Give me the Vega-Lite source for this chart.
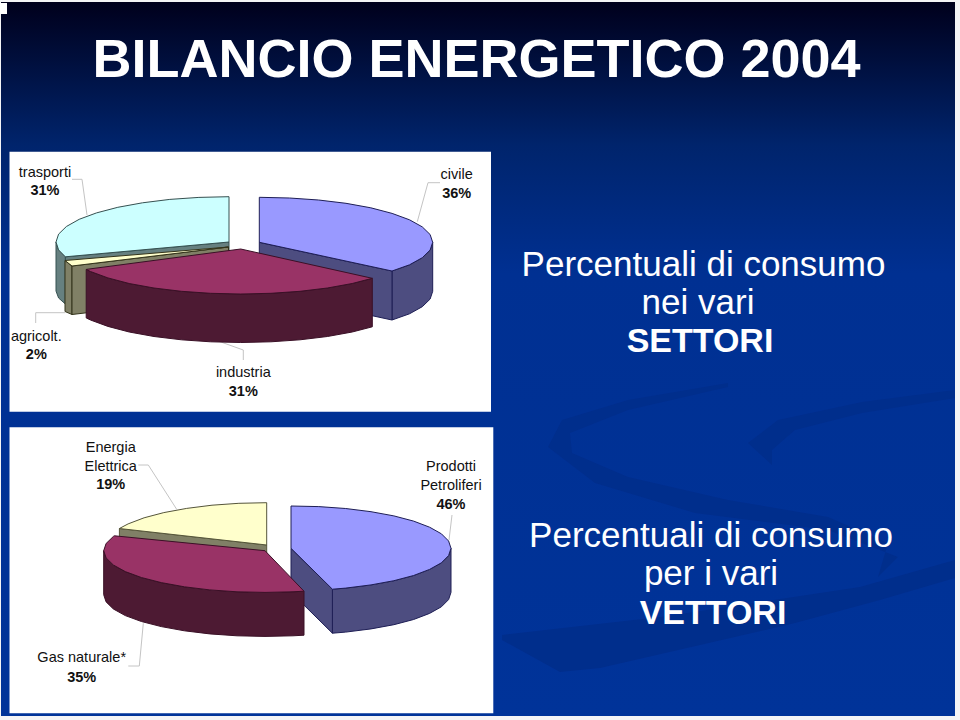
{"$schema":"https://vega.github.io/schema/vega-lite/v6.json","width":960,"height":720,"padding":0,"autosize":{"type":"fit","contains":"padding"},"background":"#f4f4f6","view":{"stroke":null},
"datasets":{
"slide":[{"x":1,"x2":955,"y":2,"y2":716}],
"swoosh":[
{"g":"band","i":1,"x":502,"y":635},{"g":"band","i":2,"x":660,"y":617},{"g":"band","i":3,"x":860,"y":587},{"g":"band","i":4,"x":955,"y":560},{"g":"band","i":5,"x":955,"y":578},{"g":"band","i":6,"x":880,"y":600},{"g":"band","i":7,"x":795,"y":623},{"g":"band","i":8,"x":700,"y":645},{"g":"band","i":9,"x":600,"y":668},{"g":"band","i":10,"x":560,"y":672},{"g":"band","i":11,"x":502,"y":640},
{"g":"crescent","i":1,"x":955,"y":390},{"g":"crescent","i":2,"x":862,"y":402},{"g":"crescent","i":3,"x":778,"y":420},{"g":"crescent","i":4,"x":748,"y":443},{"g":"crescent","i":5,"x":772,"y":465},{"g":"crescent","i":6,"x":772,"y":450},{"g":"crescent","i":7,"x":795,"y":430},{"g":"crescent","i":8,"x":862,"y":413},{"g":"crescent","i":9,"x":955,"y":398},
{"g":"ribbon","i":1,"x":728,"y":383},{"g":"ribbon","i":2,"x":628,"y":400},{"g":"ribbon","i":3,"x":562,"y":420},{"g":"ribbon","i":4,"x":548,"y":447},{"g":"ribbon","i":5,"x":595,"y":483},{"g":"ribbon","i":6,"x":695,"y":513},{"g":"ribbon","i":7,"x":828,"y":530},{"g":"ribbon","i":8,"x":898,"y":557},{"g":"ribbon","i":9,"x":878,"y":577},{"g":"ribbon","i":10,"x":888,"y":543},{"g":"ribbon","i":11,"x":828,"y":517},{"g":"ribbon","i":12,"x":728,"y":500},{"g":"ribbon","i":13,"x":628,"y":477},{"g":"ribbon","i":14,"x":572,"y":453},{"g":"ribbon","i":15,"x":570,"y":433},{"g":"ribbon","i":16,"x":628,"y":410},{"g":"ribbon","i":17,"x":728,"y":387}],
"panels":[{"x":9.5,"x2":491,"y":151.7,"y2":411.7},{"x":9.5,"x2":493.3,"y":427.3,"y2":713.3},{"x":0,"x2":7,"y":3,"y2":14}],
"leaders":[
{"g":"trasporti","i":1,"x":72,"y":179.3},{"g":"trasporti","i":2,"x":82,"y":179.3},{"g":"trasporti","i":3,"x":87,"y":215},
{"g":"civile","i":1,"x":440,"y":182.7},{"g":"civile","i":2,"x":428,"y":182.7},{"g":"civile","i":3,"x":417.3,"y":221.7},
{"g":"agricolt","i":1,"x":65,"y":312.7},{"g":"agricolt","i":2,"x":35.7,"y":312.7},{"g":"agricolt","i":3,"x":35.7,"y":323},
{"g":"industria","i":1,"x":220,"y":341.7},{"g":"industria","i":2,"x":243.3,"y":350},{"g":"industria","i":3,"x":243.3,"y":360},
{"g":"energia","i":1,"x":138.3,"y":465},{"g":"energia","i":2,"x":148.3,"y":465},{"g":"energia","i":3,"x":176.7,"y":509.3},
{"g":"prodotti","i":1,"x":452,"y":515},{"g":"prodotti","i":2,"x":449,"y":540},
{"g":"gas","i":1,"x":143.3,"y":623.3},{"g":"gas","i":2,"x":139.3,"y":666},{"g":"gas","i":3,"x":128.3,"y":666}],
"faces":[
{"g":"trasporti outer","i":1,"x":56,"y":242},{"g":"trasporti outer","i":2,"x":58.6,"y":249.9},{"g":"trasporti outer","i":3,"x":65.4,"y":256.8},{"g":"trasporti outer","i":4,"x":65.4,"y":304},{"g":"trasporti outer","i":5,"x":58.6,"y":298},{"g":"trasporti outer","i":6,"x":56,"y":291},{"g":"trasporti outer","i":7,"x":56,"y":242},
{"g":"trasporti inner","i":1,"x":229,"y":242},{"g":"trasporti inner","i":2,"x":65.4,"y":256.8},{"g":"trasporti inner","i":3,"x":65.4,"y":304},{"g":"trasporti inner","i":4,"x":229,"y":291},{"g":"trasporti inner","i":5,"x":229,"y":242},
{"g":"trasporti top","i":1,"x":229,"y":242},{"g":"trasporti top","i":2,"x":229,"y":196.7},{"g":"trasporti top","i":3,"x":198.9,"y":197.4},{"g":"trasporti top","i":4,"x":169.8,"y":199.4},{"g":"trasporti top","i":5,"x":142.5,"y":202.8},{"g":"trasporti top","i":6,"x":117.8,"y":207.3},{"g":"trasporti top","i":7,"x":96.5,"y":212.9},{"g":"trasporti top","i":8,"x":79.2,"y":219.3},{"g":"trasporti top","i":9,"x":66.4,"y":226.5},{"g":"trasporti top","i":10,"x":58.6,"y":234.1},{"g":"trasporti top","i":11,"x":56,"y":242},{"g":"trasporti top","i":12,"x":58.6,"y":249.9},{"g":"trasporti top","i":13,"x":65.4,"y":256.8},{"g":"trasporti top","i":14,"x":229,"y":242},
{"g":"civile outer","i":1,"x":432.7,"y":242.3},{"g":"civile outer","i":2,"x":430.1,"y":250.1},{"g":"civile outer","i":3,"x":422.3,"y":257.7},{"g":"civile outer","i":4,"x":409.5,"y":264.8},{"g":"civile outer","i":5,"x":392,"y":271},{"g":"civile outer","i":6,"x":392,"y":320},{"g":"civile outer","i":7,"x":409.5,"y":313.8},{"g":"civile outer","i":8,"x":422.3,"y":306.7},{"g":"civile outer","i":9,"x":430.1,"y":299.1},{"g":"civile outer","i":10,"x":432.7,"y":291.3},{"g":"civile outer","i":11,"x":432.7,"y":242.3},
{"g":"civile inner","i":1,"x":259.3,"y":242.3},{"g":"civile inner","i":2,"x":392,"y":271},{"g":"civile inner","i":3,"x":392,"y":320},{"g":"civile inner","i":4,"x":259.3,"y":291.3},{"g":"civile inner","i":5,"x":259.3,"y":242.3},
{"g":"civile top","i":1,"x":259.3,"y":242.3},{"g":"civile top","i":2,"x":259.3,"y":197.3},{"g":"civile top","i":3,"x":289.5,"y":198},{"g":"civile top","i":4,"x":318.6,"y":200},{"g":"civile top","i":5,"x":346,"y":203.3},{"g":"civile top","i":6,"x":370.8,"y":207.8},{"g":"civile top","i":7,"x":392.1,"y":213.4},{"g":"civile top","i":8,"x":409.5,"y":219.8},{"g":"civile top","i":9,"x":422.3,"y":226.9},{"g":"civile top","i":10,"x":430.1,"y":234.5},{"g":"civile top","i":11,"x":432.7,"y":242.3},{"g":"civile top","i":12,"x":430.1,"y":250.1},{"g":"civile top","i":13,"x":422.3,"y":257.7},{"g":"civile top","i":14,"x":409.5,"y":264.8},{"g":"civile top","i":15,"x":392,"y":271},{"g":"civile top","i":16,"x":259.3,"y":242.3},
{"g":"agricolt outer","i":1,"x":65,"y":260.5},{"g":"agricolt outer","i":2,"x":72,"y":266},{"g":"agricolt outer","i":3,"x":72,"y":314.5},{"g":"agricolt outer","i":4,"x":65,"y":311.5},{"g":"agricolt outer","i":5,"x":65,"y":260.5},
{"g":"agricolt inner","i":1,"x":228.5,"y":247},{"g":"agricolt inner","i":2,"x":72,"y":266},{"g":"agricolt inner","i":3,"x":72,"y":314.5},{"g":"agricolt inner","i":4,"x":228.5,"y":296},{"g":"agricolt inner","i":5,"x":228.5,"y":247},
{"g":"agricolt top","i":1,"x":228.5,"y":247},{"g":"agricolt top","i":2,"x":65,"y":260.5},{"g":"agricolt top","i":3,"x":72,"y":266},{"g":"agricolt top","i":4,"x":228.5,"y":247},
{"g":"industria side","i":1,"x":372.3,"y":278.3},{"g":"industria side","i":2,"x":352.2,"y":283.5},{"g":"industria side","i":3,"x":327.4,"y":288},{"g":"industria side","i":4,"x":300,"y":291.3},{"g":"industria side","i":5,"x":270.9,"y":293.3},{"g":"industria side","i":6,"x":240.7,"y":294},{"g":"industria side","i":7,"x":210.5,"y":293.3},{"g":"industria side","i":8,"x":181.4,"y":291.3},{"g":"industria side","i":9,"x":154,"y":288},{"g":"industria side","i":10,"x":129.2,"y":283.5},{"g":"industria side","i":11,"x":107.9,"y":277.9},{"g":"industria side","i":12,"x":90.5,"y":271.5},{"g":"industria side","i":13,"x":86.2,"y":269.4},{"g":"industria side","i":14,"x":86.2,"y":317.9},{"g":"industria side","i":15,"x":90.5,"y":320},{"g":"industria side","i":16,"x":107.9,"y":326.4},{"g":"industria side","i":17,"x":129.2,"y":332},{"g":"industria side","i":18,"x":154,"y":336.5},{"g":"industria side","i":19,"x":181.4,"y":339.8},{"g":"industria side","i":20,"x":210.5,"y":341.8},{"g":"industria side","i":21,"x":240.7,"y":342.5},{"g":"industria side","i":22,"x":270.9,"y":341.8},{"g":"industria side","i":23,"x":300,"y":339.8},{"g":"industria side","i":24,"x":327.4,"y":336.5},{"g":"industria side","i":25,"x":352.2,"y":332},{"g":"industria side","i":26,"x":372.3,"y":326.8},{"g":"industria side","i":27,"x":372.3,"y":278.3},
{"g":"industria top","i":1,"x":240.7,"y":249},{"g":"industria top","i":2,"x":372.3,"y":278.3},{"g":"industria top","i":3,"x":352.2,"y":283.5},{"g":"industria top","i":4,"x":327.4,"y":288},{"g":"industria top","i":5,"x":300,"y":291.3},{"g":"industria top","i":6,"x":270.9,"y":293.3},{"g":"industria top","i":7,"x":240.7,"y":294},{"g":"industria top","i":8,"x":210.5,"y":293.3},{"g":"industria top","i":9,"x":181.4,"y":291.3},{"g":"industria top","i":10,"x":154,"y":288},{"g":"industria top","i":11,"x":129.2,"y":283.5},{"g":"industria top","i":12,"x":107.9,"y":277.9},{"g":"industria top","i":13,"x":90.5,"y":271.5},{"g":"industria top","i":14,"x":86.2,"y":269.4},{"g":"industria top","i":15,"x":240.7,"y":249},
{"g":"energia inner","i":1,"x":266.7,"y":545},{"g":"energia inner","i":2,"x":119.4,"y":528.5},{"g":"energia inner","i":3,"x":119.4,"y":572},{"g":"energia inner","i":4,"x":266.7,"y":589},{"g":"energia inner","i":5,"x":266.7,"y":545},
{"g":"energia top","i":1,"x":266.7,"y":545},{"g":"energia top","i":2,"x":266.7,"y":502.7},{"g":"energia top","i":3,"x":238.9,"y":503.3},{"g":"energia top","i":4,"x":212,"y":505.2},{"g":"energia top","i":5,"x":186.7,"y":508.4},{"g":"energia top","i":6,"x":163.8,"y":512.6},{"g":"energia top","i":7,"x":144.1,"y":517.8},{"g":"energia top","i":8,"x":128.1,"y":523.9},{"g":"energia top","i":9,"x":119.4,"y":528.5},{"g":"energia top","i":10,"x":266.7,"y":545},
{"g":"prodotti outer","i":1,"x":451,"y":548.3},{"g":"prodotti outer","i":2,"x":448.6,"y":555.6},{"g":"prodotti outer","i":3,"x":441.4,"y":562.8},{"g":"prodotti outer","i":4,"x":429.6,"y":569.4},{"g":"prodotti outer","i":5,"x":413.6,"y":575.5},{"g":"prodotti outer","i":6,"x":393.9,"y":580.7},{"g":"prodotti outer","i":7,"x":371,"y":584.9},{"g":"prodotti outer","i":8,"x":345.7,"y":588.1},{"g":"prodotti outer","i":9,"x":332.4,"y":589.2},{"g":"prodotti outer","i":10,"x":332.4,"y":633.2},{"g":"prodotti outer","i":11,"x":345.7,"y":632.1},{"g":"prodotti outer","i":12,"x":371,"y":628.9},{"g":"prodotti outer","i":13,"x":393.9,"y":624.7},{"g":"prodotti outer","i":14,"x":413.6,"y":619.5},{"g":"prodotti outer","i":15,"x":429.6,"y":613.4},{"g":"prodotti outer","i":16,"x":441.4,"y":606.8},{"g":"prodotti outer","i":17,"x":448.6,"y":599.6},{"g":"prodotti outer","i":18,"x":451,"y":592.3},{"g":"prodotti outer","i":19,"x":451,"y":548.3},
{"g":"prodotti inner","i":1,"x":291,"y":548.3},{"g":"prodotti inner","i":2,"x":332.4,"y":589.2},{"g":"prodotti inner","i":3,"x":332.4,"y":633.2},{"g":"prodotti inner","i":4,"x":291,"y":592.3},{"g":"prodotti inner","i":5,"x":291,"y":548.3},
{"g":"prodotti top","i":1,"x":291,"y":548.3},{"g":"prodotti top","i":2,"x":291,"y":506},{"g":"prodotti top","i":3,"x":318.8,"y":506.6},{"g":"prodotti top","i":4,"x":345.7,"y":508.5},{"g":"prodotti top","i":5,"x":371,"y":511.7},{"g":"prodotti top","i":6,"x":393.9,"y":515.9},{"g":"prodotti top","i":7,"x":413.6,"y":521.1},{"g":"prodotti top","i":8,"x":429.6,"y":527.2},{"g":"prodotti top","i":9,"x":441.4,"y":533.8},{"g":"prodotti top","i":10,"x":448.6,"y":541},{"g":"prodotti top","i":11,"x":451,"y":548.3},{"g":"prodotti top","i":12,"x":448.6,"y":555.6},{"g":"prodotti top","i":13,"x":441.4,"y":562.8},{"g":"prodotti top","i":14,"x":429.6,"y":569.4},{"g":"prodotti top","i":15,"x":413.6,"y":575.5},{"g":"prodotti top","i":16,"x":393.9,"y":580.7},{"g":"prodotti top","i":17,"x":371,"y":584.9},{"g":"prodotti top","i":18,"x":345.7,"y":588.1},{"g":"prodotti top","i":19,"x":332.4,"y":589.2},{"g":"prodotti top","i":20,"x":291,"y":548.3},
{"g":"gas side","i":1,"x":304,"y":591.2},{"g":"gas side","i":2,"x":293,"y":591.8},{"g":"gas side","i":3,"x":265,"y":592.4},{"g":"gas side","i":4,"x":237,"y":591.8},{"g":"gas side","i":5,"x":209.8,"y":589.9},{"g":"gas side","i":6,"x":184.4,"y":586.8},{"g":"gas side","i":7,"x":161.3,"y":582.6},{"g":"gas side","i":8,"x":141.4,"y":577.5},{"g":"gas side","i":9,"x":125.3,"y":571.6},{"g":"gas side","i":10,"x":113.4,"y":565},{"g":"gas side","i":11,"x":106.1,"y":557.9},{"g":"gas side","i":12,"x":103.7,"y":550.7},{"g":"gas side","i":13,"x":103.7,"y":594.7},{"g":"gas side","i":14,"x":106.1,"y":601.9},{"g":"gas side","i":15,"x":113.4,"y":609},{"g":"gas side","i":16,"x":125.3,"y":615.6},{"g":"gas side","i":17,"x":141.4,"y":621.5},{"g":"gas side","i":18,"x":161.3,"y":626.6},{"g":"gas side","i":19,"x":184.4,"y":630.8},{"g":"gas side","i":20,"x":209.8,"y":633.9},{"g":"gas side","i":21,"x":237,"y":635.8},{"g":"gas side","i":22,"x":265,"y":636.4},{"g":"gas side","i":23,"x":293,"y":635.8},{"g":"gas side","i":24,"x":304,"y":635.2},{"g":"gas side","i":25,"x":304,"y":591.2},
{"g":"gas top","i":1,"x":265,"y":550.7},{"g":"gas top","i":2,"x":304,"y":591.2},{"g":"gas top","i":3,"x":293,"y":591.8},{"g":"gas top","i":4,"x":265,"y":592.4},{"g":"gas top","i":5,"x":237,"y":591.8},{"g":"gas top","i":6,"x":209.8,"y":589.9},{"g":"gas top","i":7,"x":184.4,"y":586.8},{"g":"gas top","i":8,"x":161.3,"y":582.6},{"g":"gas top","i":9,"x":141.4,"y":577.5},{"g":"gas top","i":10,"x":125.3,"y":571.6},{"g":"gas top","i":11,"x":113.4,"y":565},{"g":"gas top","i":12,"x":106.1,"y":557.9},{"g":"gas top","i":13,"x":103.7,"y":550.7},{"g":"gas top","i":14,"x":106.1,"y":543.5},{"g":"gas top","i":15,"x":113.4,"y":536.4},{"g":"gas top","i":16,"x":114.4,"y":535.8},{"g":"gas top","i":17,"x":265,"y":550.7}],
"labels":[{"t":"trasporti","x":45,"y":176.7},{"t":"civile","x":456.7,"y":179.3},{"t":"agricolt.","x":36.3,"y":340.7},{"t":"industria","x":243.3,"y":376.7},{"t":"Energia","x":110.7,"y":451.7},{"t":"Elettrica","x":110.7,"y":470.7},{"t":"Prodotti","x":451,"y":470.7},{"t":"Petroliferi","x":451,"y":489.7},{"t":"Gas naturale*","x":81.7,"y":662.3}],
"shares":[{"t":"31%","x":45,"y":195},{"t":"36%","x":456.7,"y":198.3},{"t":"2%","x":36.3,"y":359.3},{"t":"31%","x":243.3,"y":395.7},{"t":"19%","x":110.7,"y":489.3},{"t":"46%","x":451,"y":509},{"t":"35%","x":81.7,"y":682.3}],
"captions":[{"t":"Percentuali di consumo","x":703.5,"y":276},{"t":"nei vari","x":698,"y":314},{"t":"Percentuali di consumo","x":711,"y":546.7},{"t":"per i  vari","x":711,"y":585}],
"heads":[{"t":"SETTORI","x":700,"y":351.7},{"t":"VETTORI","x":713,"y":624}],
"title":[{"t":"BILANCIO ENERGETICO 2004","x":476.5,"y":77}]
},
"encoding":{"x":{"field":"x","type":"quantitative","axis":null,"scale":{"domain":[0,960],"nice":false,"zero":false}},"y":{"field":"y","type":"quantitative","axis":null,"scale":{"domain":[720,0],"nice":false,"zero":false}}},
"layer":[
{"data":{"name":"slide"},"mark":{"type":"rect","fill":{"gradient":"linear","x1":0,"y1":0,"x2":0,"y2":1,"stops":[{"offset":0,"color":"#00001c"},{"offset":0.2,"color":"#00246c"},{"offset":0.38,"color":"#003092"},{"offset":1,"color":"#003399"}]}},"encoding":{"x2":{"field":"x2"},"y2":{"field":"y2"}}},
{"data":{"name":"swoosh"},"mark":{"type":"line","fill":"#002e8c","stroke":"#002e8c","strokeWidth":0},"encoding":{"detail":{"field":"g"},"order":{"field":"i"}}},
{"data":{"name":"panels"},"mark":{"type":"rect","fill":"#ffffff"},"encoding":{"x2":{"field":"x2"},"y2":{"field":"y2"}}},
{"data":{"name":"leaders"},"mark":{"type":"line","stroke":"#c4c4c4","strokeWidth":1},"encoding":{"detail":{"field":"g"},"order":{"field":"i"}}},
{"data":{"name":"faces"},"mark":{"type":"line","strokeWidth":1,"strokeJoin":"round"},"encoding":{"order":{"field":"i"},
"fill":{"field":"g","type":"nominal","legend":null,"sort":null,"scale":{"domain":["trasporti outer","trasporti inner","trasporti top","civile outer","civile inner","civile top","agricolt outer","agricolt inner","agricolt top","industria side","industria top","energia inner","energia top","prodotti outer","prodotti inner","prodotti top","gas side","gas top"],"range":["#668080","#668080","#ccffff","#4d4d80","#4d4d80","#9999ff","#808066","#808066","#ffffcc","#4d1a33","#993366","#808066","#ffffcc","#4d4d80","#4d4d80","#9999ff","#4d1a33","#993366"]}},
"stroke":{"field":"g","type":"nominal","legend":null,"sort":null,"scale":{"domain":["trasporti outer","trasporti inner","trasporti top","civile outer","civile inner","civile top","agricolt outer","agricolt inner","agricolt top","industria side","industria top","energia inner","energia top","prodotti outer","prodotti inner","prodotti top","gas side","gas top"],"range":["#355050","#355050","#355050","#1e1e55","#1e1e55","#1e1e55","#33331a","#33331a","#33331a","#3a1026","#3a1026","#55553a","#55553a","#1e1e55","#1e1e55","#1e1e55","#3a1026","#3a1026"]}}}},
{"data":{"name":"labels"},"mark":{"type":"text","font":"Liberation Sans","fontSize":14.5,"fill":"#111111","align":"center","baseline":"alphabetic"},"encoding":{"text":{"field":"t"}}},
{"data":{"name":"shares"},"mark":{"type":"text","font":"Liberation Sans","fontSize":14.5,"fontWeight":"bold","fill":"#111111","align":"center","baseline":"alphabetic"},"encoding":{"text":{"field":"t"}}},
{"data":{"name":"captions"},"mark":{"type":"text","font":"Liberation Sans","fontSize":35,"fill":"#ffffff","align":"center","baseline":"alphabetic"},"encoding":{"text":{"field":"t"}}},
{"data":{"name":"heads"},"mark":{"type":"text","font":"Liberation Sans","fontSize":34,"fontWeight":"bold","fill":"#ffffff","align":"center","baseline":"alphabetic"},"encoding":{"text":{"field":"t"}}},
{"data":{"name":"title"},"mark":{"type":"text","font":"Liberation Sans","fontSize":54,"fontWeight":"bold","fill":"#ffffff","align":"center","baseline":"alphabetic"},"encoding":{"text":{"field":"t"}}}
]}
